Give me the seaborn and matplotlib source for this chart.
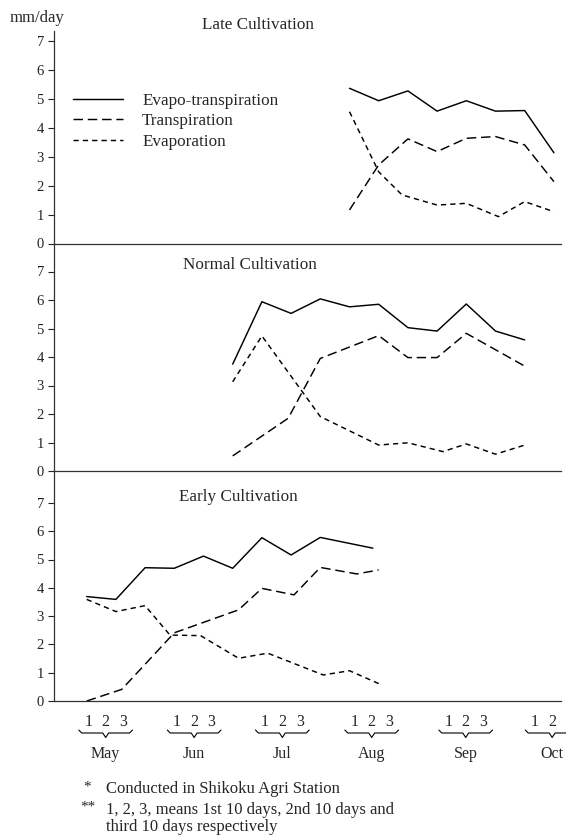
import numpy as np
import pandas as pd
import matplotlib
matplotlib.use("Agg")
import matplotlib.pyplot as plt
import matplotlib.transforms as mtransforms
import seaborn as sns

# x = dekad index: 0 = 1st ten days of May ... 16 = 2nd ten days of Oct
late_et_x = [9, 10, 11, 12, 13, 14, 15, 16]
late_et = [5.37, 4.94, 5.28, 4.58, 4.94, 4.58, 4.60, 3.14]
late_tr_x = [9, 10, 11, 12, 13, 14, 15, 16]
late_tr = [1.16, 2.72, 3.62, 3.18, 3.64, 3.70, 3.41, 2.14]
late_ev_x = [9, 10, 10.8, 12, 13, 14.1, 15, 16]
late_ev = [4.56, 2.48, 1.68, 1.33, 1.39, 0.93, 1.45, 1.10]

normal_et_x = [5, 6, 7, 8, 9, 10, 11, 12, 13, 14, 15]
normal_et = [3.75, 5.94, 5.53, 6.04, 5.76, 5.85, 5.03, 4.91, 5.86, 4.91, 4.60]
normal_tr_x = [5, 6.9, 8, 10, 11, 12, 13, 15]
normal_tr = [0.53, 1.85, 3.95, 4.75, 3.98, 3.98, 4.83, 3.68]
normal_ev_x = [5, 6, 8, 10, 11, 12.2, 13, 14, 15]
normal_ev = [3.13, 4.74, 1.91, 0.91, 0.99, 0.68, 0.95, 0.59, 0.91]

early_et_x = [0, 1, 2, 3, 4, 5, 6, 7, 8, 9.8]
early_et = [3.69, 3.59, 4.71, 4.69, 5.12, 4.69, 5.77, 5.16, 5.78, 5.40]
early_tr_x = [0, 1.2, 3, 5.2, 6, 7.1, 8, 9.25, 10]
early_tr = [0.0, 0.41, 2.41, 3.22, 3.98, 3.75, 4.72, 4.49, 4.63]
early_ev_x = [0, 1, 2, 2.85, 3.9, 5.2, 6.2, 8.1, 9, 10.1]
early_ev = [3.59, 3.16, 3.37, 2.33, 2.31, 1.51, 1.69, 0.92, 1.07, 0.57]

components = ["Evapo-transpiration", "Transpiration", "Evaporation"]
months = ["May", "Jun", "Jul", "Aug", "Sep", "Oct"]
month_dekads = [["1", "2", "3"], ["1", "2", "3"], ["1", "2", "3"],
                ["1", "2", "3"], ["1", "2", "3"], ["1", "2"]]
footnotes = ["Conducted in Shikoku Agri Station",
             "1, 2, 3, means 1st 10 days, 2nd 10 days and",
             "third 10 days respectively"]

sns.set_style("ticks")
plt.rcParams["font.family"] = ["Liberation Serif", "DejaVu Serif"]

W, H = 566, 835
fig = plt.figure(figsize=(W / 100, H / 100), dpi=100)


def fx(px):
    return px / W


def fy(py):
    return 1 - py / H


dash_map = {"Evapo-transpiration": "", "Transpiration": (6.5, 3.3), "Evaporation": (3.6, 2.8)}
x_left = (53.5 - 86.7) / 29.2
x_right = (561 - 86.7) / 29.2

panels = [
    ("Late Cultivation", 31, 243.5, 28.9, 201.7, 25,
     [(late_et_x, late_et), (late_tr_x, late_tr), (late_ev_x, late_ev)]),
    ("Normal Cultivation", 243.5, 471, 28.5, 183.3, 265,
     [(normal_et_x, normal_et), (normal_tr_x, normal_tr), (normal_ev_x, normal_ev)]),
    ("Early Cultivation", 471, 701, 28.3, 179.3, 497,
     [(early_et_x, early_et), (early_tr_x, early_tr), (early_ev_x, early_ev)]),
]

axes = []
for i, (title, top_px, bot_px, per_unit, tx, ty, series) in enumerate(panels):
    ax = fig.add_axes([fx(53.5), fy(bot_px), fx(561) - fx(53.5), (bot_px - top_px) / H])
    df = pd.concat([pd.DataFrame({"dekad": x, "mm": y, "component": name})
                    for name, (x, y) in zip(components, series)])
    sns.lineplot(data=df, x="dekad", y="mm", style="component", style_order=components,
                 dashes=dash_map, color="black", linewidth=1.05, estimator=None,
                 legend=(i == 0), ax=ax)
    ax.set_xlim(x_left, x_right)
    ax.set_ylim(0, (bot_px - top_px) / per_unit)
    ax.set_yticks(range(8))
    ax.set_xticks([])
    ax.set_xlabel("")
    ax.set_ylabel("")
    ax.tick_params(axis="y", direction="out", length=4.5, width=0.8, pad=2.5,
                   labelsize=10.5, colors="#222222")
    for s in ["top", "right"]:
        ax.spines[s].set_visible(False)
    for s in ["left", "bottom"]:
        ax.spines[s].set_linewidth(0.9)
        ax.spines[s].set_color("#333333")
    ax.patch.set_alpha(0)
    fig.text(fx(tx), fy(ty), title, ha="left", va="center", fontsize=12.3)
    axes.append(ax)

# legend in the top panel
ax = axes[0]
handles, labels = ax.get_legend_handles_labels()
ax.get_legend().remove()
ax.legend(handles, labels, loc="upper left", bbox_to_anchor=(fx(73), fy(93)),
          bbox_transform=fig.transFigure, frameon=False, fontsize=12.3,
          handlelength=2.95, handletextpad=1.1, labelspacing=0.25,
          borderpad=0, borderaxespad=0)

fig.text(fx(10), fy(18), "mm/day", ha="left", va="center", fontsize=12)

# month / dekad labels under the bottom panel
ax = axes[2]
trans = mtransforms.blended_transform_factory(ax.transData, ax.transAxes)
px = 1 / (701 - 471)
centers = [0.65, 3.68, 6.7, 9.76, 12.98, 15.94]
for c, m, digits in zip(centers, months, month_dekads):
    for j, d in enumerate(digits):
        ax.text(c + (j - 1) * 0.6, -21 * px, d, transform=trans, ha="center",
                va="center", fontsize=11.5, clip_on=False)
    bx = c + np.array([-0.92, -0.82, -0.1, 0, 0.1, 0.82, 0.92])
    by = -(32 + np.array([-3, 0, 0, 4.5, 0, 0, -3])) * px
    ax.plot(bx, by, transform=trans, color="black", lw=0.8, clip_on=False)
    ax.text(c, -53 * px, m, transform=trans, ha="center", va="center",
            fontsize=11.5, clip_on=False)
ax.set_xlim(x_left, x_right)
ax.set_ylim(0, (701 - 471) / 28.3)

fig.text(fx(83), fy(787), "*", ha="left", va="center", fontsize=11)
fig.text(fx(106.5), fy(789), footnotes[0], ha="left", va="center", fontsize=12)
fig.text(fx(80), fy(807), "**", ha="left", va="center", fontsize=11)
fig.text(fx(106.5), fy(810), footnotes[1], ha="left", va="center", fontsize=12)
fig.text(fx(106.5), fy(827), footnotes[2], ha="left", va="center", fontsize=12)

fig.savefig("out.png", dpi=100)
